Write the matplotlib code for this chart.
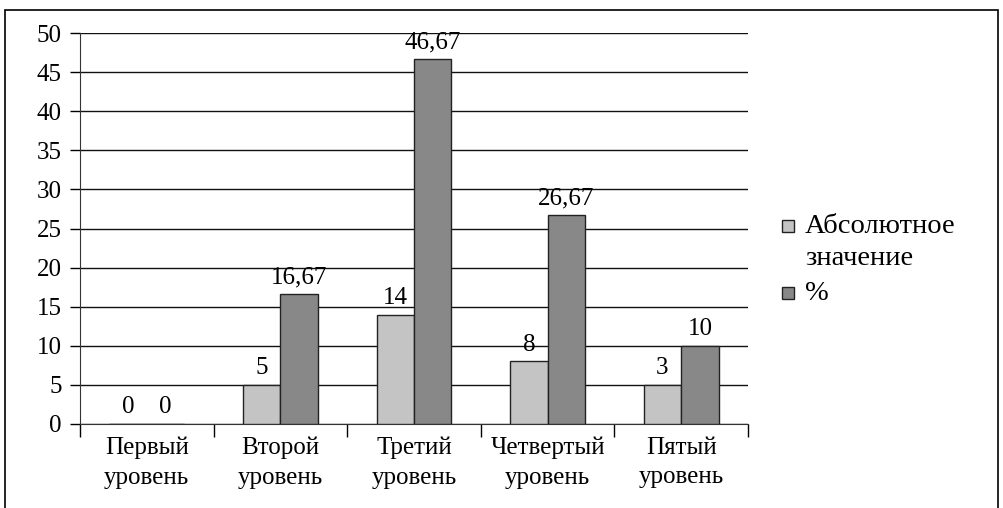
import matplotlib.pyplot as plt
from matplotlib.patches import Rectangle

# Data
categories = ['Первый\nуровень', 'Второй\nуровень', 'Третий\nуровень',
              'Четвертый\nуровень', 'Пятый\nуровень']
absolute = [0, 5, 14, 8, 5]
absolute_labels = ['0', '5', '14', '8', '3']
percent = [0, 16.67, 46.67, 26.67, 10]
percent_labels = ['0', '16,67', '46,67', '26,67', '10']
series_names = ['Абсолютное\nзначение', '%']

plt.rcParams['font.family'] = ['Liberation Serif', 'DejaVu Serif']
fs = 18
legend_fs = 20.5

fig = plt.figure(figsize=(10.04, 5.08), dpi=100)
ax = fig.add_axes([80 / 1004, 84 / 508, 668 / 1004, 391 / 508])

# Outer frame (bottom edge falls outside the image)
fig.patches.append(Rectangle((5 / 1004, -0.05), 993 / 1004, 1.05 - 10 / 508,
                             transform=fig.transFigure, fill=False,
                             edgecolor='black', linewidth=1.2))

x = list(range(len(categories)))
w = 0.28
light = '#c4c4c4'
dark = '#888888'
edge = '#222222'
b1 = ax.bar([i - w / 2 for i in x], absolute, w, color=light, edgecolor=edge,
            linewidth=1.0, zorder=3)
b2 = ax.bar([i + w / 2 for i in x], percent, w, color=dark, edgecolor=edge,
            linewidth=1.0, zorder=3)

for bars, labels in [(b1, absolute_labels), (b2, percent_labels)]:
    for rect, lab in zip(bars, labels):
        ax.annotate(lab, (rect.get_x() + rect.get_width() / 2, rect.get_height()),
                    xytext=(0, 4), textcoords='offset points', ha='center',
                    va='bottom', fontsize=fs)

ax.set_xlim(-0.5, len(categories) - 0.5)
ax.set_ylim(0, 50)
ax.set_yticks(range(0, 51, 5))
ax.yaxis.grid(True, color='#111111', linewidth=1.0)
ax.set_axisbelow(True)

# category labels at centers, tick marks at boundaries
ax.set_xticks(x)
ax.set_xticklabels(categories, fontsize=fs, linespacing=1.45)
ax.tick_params(axis='x', length=0, pad=9)
ax.set_xticks([i - 0.5 for i in range(len(categories) + 1)], minor=True)
ax.tick_params(axis='x', which='minor', length=9, width=1.0, direction='out')
ax.tick_params(axis='y', labelsize=fs, length=7, width=1.0, pad=6)

for s in ['top', 'right']:
    ax.spines[s].set_visible(False)
ax.spines['left'].set_color('#333333')
ax.spines['bottom'].set_color('#333333')

# legend, placed by hand
H = 508
for (top, color) in [(220, light), (287, dark)]:
    fig.patches.append(Rectangle((782 / 1004, 1 - (top + 12) / H), 12 / 1004, 12 / H,
                                 transform=fig.transFigure, facecolor=color,
                                 edgecolor=edge, linewidth=1.0))
fig.text(805 / 1004, 1 - 265 / H, series_names[0], fontsize=legend_fs,
         va='baseline', ha='left', linespacing=1.35)
fig.text(805 / 1004, 1 - 300 / H, series_names[1], fontsize=legend_fs,
         va='baseline', ha='left')

fig.savefig('out.png', dpi=100)
